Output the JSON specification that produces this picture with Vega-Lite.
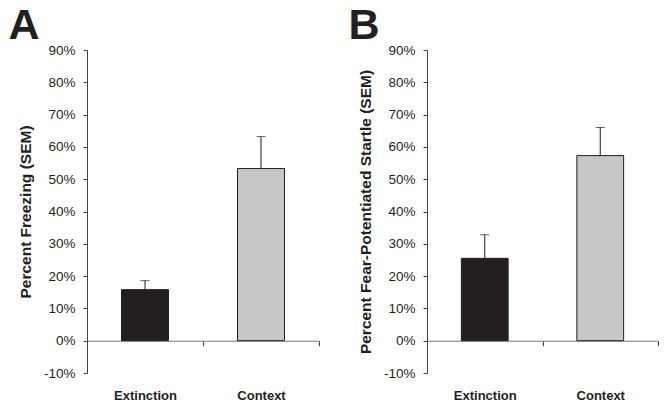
{
  "$schema": "https://vega.github.io/schema/vega-lite/v6.json",
  "background": "white",
  "padding": {"left": 8, "top": 5, "right": 5, "bottom": 5},
  "datasets": {
    "A": [
      {"cond": "Extinction", "mean": 0.158, "upper": 0.186},
      {"cond": "Context", "mean": 0.533, "upper": 0.632}
    ],
    "B": [
      {"cond": "Extinction", "mean": 0.255, "upper": 0.328},
      {"cond": "Context", "mean": 0.573, "upper": 0.66}
    ]
  },
  "config": {
    "font": "Liberation Sans",
    "view": {"stroke": null},
    "axis": {"grid": false, "domainColor": "#444", "tickColor": "#444", "labelColor": "#231f20", "titleColor": "#231f20"},
    "title": {"fontSize": 43, "fontWeight": "bold", "anchor": "start", "frame": "bounds", "color": "#231f20", "offset": -5}
  },
  "spacing": 28,
  "hconcat": [
    {
      "width": 232,
      "height": 323,
      "data": {"name": "A"},
      "title": {"text": "A", "dx": -10},
      "encoding": {
        "x": {
          "field": "cond", "type": "nominal", "sort": ["Extinction", "Context"],
          "scale": {"paddingInner": 0.595, "paddingOuter": 0.2975},
          "axis": {"title": null, "labelAngle": 0, "offset": -32.3, "ticks": true, "tickBand": "center", "tickOffset": 58, "labelOffset": -58, "tickSize": 5, "tickWidth": 1, "tickColor": "#444", "labelPadding": 44, "labelFontSize": 13, "labelFontWeight": "bold", "domainColor": "#777"}
        },
        "y": {"field": "mean", "type": "quantitative", "scale": {"domain": [-0.1, 0.9], "nice": false},
          "axis": {"title": "Percent Freezing (SEM)", "labelExpr": "replace(format(datum.value, '.0%'), '\u2212', '-')", "labelOverlap": false, "values": [-0.1, 0, 0.1, 0.2, 0.3, 0.4, 0.5, 0.6, 0.7, 0.8, 0.9], "tickSize": 4, "labelPadding": 8, "labelFontSize": 13.5, "titleFontSize": 15.5, "titleFontWeight": "bold", "titlePadding": 10}}
      },
      "layer": [
        {
          "mark": {"type": "bar", "stroke": "#231f20", "strokeWidth": 1},
          "encoding": {
            "color": {"field": "cond", "type": "nominal", "scale": {"domain": ["Extinction", "Context"], "range": ["#231f20", "#c6c7c9"]}, "legend": null}
          }
        },
        {
          "mark": {"type": "rule", "color": "#231f20", "strokeWidth": 1},
          "encoding": {"y2": {"field": "upper"}}
        },
        {
          "mark": {"type": "tick", "color": "#231f20", "orient": "horizontal", "size": 9, "thickness": 1},
          "encoding": {"y": {"field": "upper", "type": "quantitative",
            "axis": {"title": "Percent Freezing (SEM)", "labelExpr": "replace(format(datum.value, '.0%'), '\u2212', '-')", "labelOverlap": false, "values": [-0.1, 0, 0.1, 0.2, 0.3, 0.4, 0.5, 0.6, 0.7, 0.8, 0.9], "tickSize": 4, "labelPadding": 8, "labelFontSize": 13.5, "titleFontSize": 15.5, "titleFontWeight": "bold", "titlePadding": 10}}}
        }
      ]
    },
    {
      "width": 231,
      "height": 323,
      "data": {"name": "B"},
      "title": {"text": "B", "dx": -10},
      "encoding": {
        "x": {
          "field": "cond", "type": "nominal", "sort": ["Extinction", "Context"],
          "scale": {"paddingInner": 0.595, "paddingOuter": 0.2975},
          "axis": {"title": null, "labelAngle": 0, "offset": -32.3, "ticks": true, "tickBand": "center", "tickOffset": 58, "labelOffset": -58, "tickSize": 5, "tickWidth": 1, "tickColor": "#444", "labelPadding": 44, "labelFontSize": 13, "labelFontWeight": "bold", "domainColor": "#777"}
        },
        "y": {"field": "mean", "type": "quantitative", "scale": {"domain": [-0.1, 0.9], "nice": false},
          "axis": {"title": "Percent Fear-Potentiated Startle (SEM)", "labelExpr": "replace(format(datum.value, '.0%'), '\u2212', '-')", "labelOverlap": false, "values": [-0.1, 0, 0.1, 0.2, 0.3, 0.4, 0.5, 0.6, 0.7, 0.8, 0.9], "tickSize": 4, "labelPadding": 8, "labelFontSize": 13.5, "titleFontSize": 15.5, "titleFontWeight": "bold", "titlePadding": 10}}
      },
      "layer": [
        {
          "mark": {"type": "bar", "stroke": "#231f20", "strokeWidth": 1},
          "encoding": {
            "color": {"field": "cond", "type": "nominal", "scale": {"domain": ["Extinction", "Context"], "range": ["#231f20", "#c6c7c9"]}, "legend": null}
          }
        },
        {
          "mark": {"type": "rule", "color": "#231f20", "strokeWidth": 1},
          "encoding": {"y2": {"field": "upper"}}
        },
        {
          "mark": {"type": "tick", "color": "#231f20", "orient": "horizontal", "size": 9, "thickness": 1},
          "encoding": {"y": {"field": "upper", "type": "quantitative",
            "axis": {"title": "Percent Fear-Potentiated Startle (SEM)", "labelExpr": "replace(format(datum.value, '.0%'), '\u2212', '-')", "labelOverlap": false, "values": [-0.1, 0, 0.1, 0.2, 0.3, 0.4, 0.5, 0.6, 0.7, 0.8, 0.9], "tickSize": 4, "labelPadding": 8, "labelFontSize": 13.5, "titleFontSize": 15.5, "titleFontWeight": "bold", "titlePadding": 10}}}
        }
      ]
    }
  ]
}
